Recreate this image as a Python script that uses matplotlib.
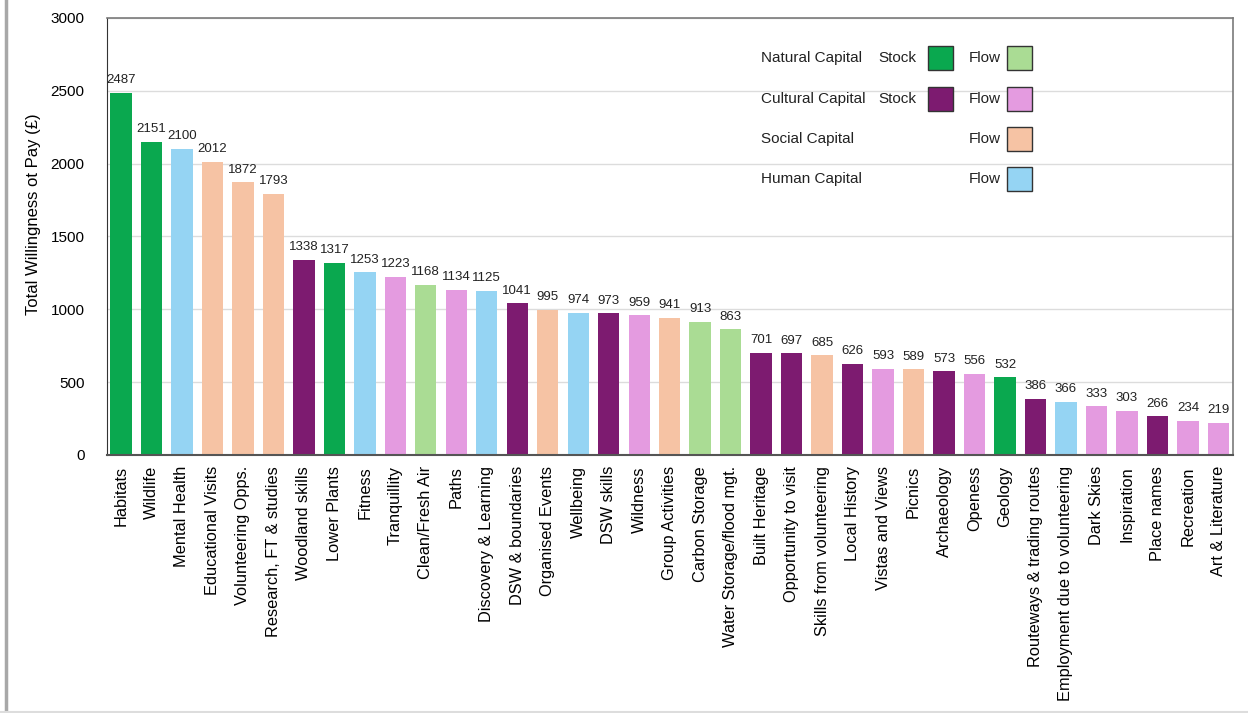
#!/usr/bin/env python3
"""Total willingness to pay by ecosystem service, coloured by capital type."""

import matplotlib
matplotlib.use("Agg")
import matplotlib.pyplot as plt
from matplotlib.lines import Line2D
from matplotlib.patches import Rectangle

plt.rcParams["font.family"] = ["Liberation Sans", "DejaVu Sans"]

services = [
    "Habitats", "Wildlife", "Mental Health", "Educational Visits", "Volunteering Opps.",
    "Research, FT & studies", "Woodland skills", "Lower Plants", "Fitness", "Tranquillity",
    "Clean/Fresh Air", "Paths", "Discovery & Learning", "DSW & boundaries", "Organised Events",
    "Wellbeing", "DSW skills", "Wildness", "Group Activities", "Carbon Storage",
    "Water Storage/flood mgt.", "Built Heritage", "Opportunity to visit",
    "Skills from volunteering", "Local History", "Vistas and Views", "Picnics", "Archaeology",
    "Openess", "Geology", "Routeways & trading routes", "Employment due to volunteering",
    "Dark Skies", "Inspiration", "Place names", "Recreation", "Art & Literature",
]
wtp = [
    2487, 2151, 2100, 2012, 1872, 1793, 1338, 1317, 1253, 1223, 1168, 1134, 1125, 1041,
    995, 974, 973, 959, 941, 913, 863, 701, 697, 685, 626, 593, 589, 573, 556, 532,
    386, 366, 333, 303, 266, 234, 219,
]
# NS natural stock, NF natural flow, CS cultural stock, CF cultural flow,
# SF social flow, HF human flow
capital = [
    "NS", "NS", "HF", "SF", "SF", "SF", "CS", "NS", "HF", "CF", "NF", "CF", "HF", "CS",
    "SF", "HF", "CS", "CF", "SF", "NF", "NF", "CS", "CS", "SF", "CS", "CF", "SF", "CS",
    "CF", "NS", "CS", "HF", "CF", "CF", "CS", "CF", "CF",
]

COLOURS = {
    "NS": "#0aa84f",
    "NF": "#aadc94",
    "CS": "#7d1b70",
    "CF": "#e49be0",
    "SF": "#f6c3a4",
    "HF": "#95d4f3",
}

fig = plt.figure(figsize=(12.48, 7.13), dpi=100)
ax = fig.add_axes([0.0857, 0.362, 0.9023, 0.613])

x = range(len(services))
bars = ax.bar(x, wtp, width=0.7, color=[COLOURS[c] for c in capital], zorder=2)
for bar, v in zip(bars, wtp):
    ax.text(bar.get_x() + bar.get_width() / 2, v + 45, f"{v}",
            ha="center", va="bottom", fontsize=9.5, color="#222222")

ax.set_xlim(-0.46, len(services) - 0.52)
ax.set_ylim(0, 3000)
ax.set_yticks(range(0, 3001, 500))
ax.tick_params(axis="y", length=0, labelsize=11, pad=16)
ax.tick_params(axis="x", length=0, pad=8)
ax.set_xticks(list(x))
ax.set_xticklabels(services, rotation=90, fontsize=11.8)
ax.yaxis.grid(True, color="#dcdcdc", linewidth=1, zorder=0)
ax.set_axisbelow(True)
ax.set_ylabel("Total Willingness ot Pay (£)", fontsize=12, labelpad=8)
ax.yaxis.set_label_coords(-0.059, 0.55)

for side in ("top", "right"):
    ax.spines[side].set_color("#7a7a7a")
    ax.spines[side].set_linewidth(1.2)
ax.spines["left"].set_color("#333333")
ax.spines["bottom"].set_color("#555555")
ax.spines["bottom"].set_linewidth(1.5)

# hand-built key in the upper right corner
rows = [
    ("Natural Capital", "NS", "NF"),
    ("Cultural Capital", "CS", "CF"),
    ("Social Capital", None, "SF"),
    ("Human Capital", None, "HF"),
]
y0, dy = 0.907, 0.092
sw, sh = 0.0222, 0.055
for i, (name, stock, flow) in enumerate(rows):
    yy = y0 - i * dy
    ax.text(0.5805, yy, name, transform=ax.transAxes, fontsize=11, va="center", color="#222222")
    if stock:
        ax.text(0.685, yy, "Stock", transform=ax.transAxes, fontsize=11, va="center", color="#222222")
        ax.add_patch(Rectangle((0.729, yy - sh / 2), sw, sh, transform=ax.transAxes,
                               facecolor=COLOURS[stock], edgecolor="#333333", linewidth=1, zorder=3))
    ax.text(0.765, yy, "Flow", transform=ax.transAxes, fontsize=11, va="center", color="#222222")
    ax.add_patch(Rectangle((0.799, yy - sh / 2), sw, sh, transform=ax.transAxes,
                           facecolor=COLOURS[flow], edgecolor="#333333", linewidth=1, zorder=3))

# panel edges
fig.add_artist(Line2D([0.0045, 0.0045], [0, 1], transform=fig.transFigure,
                      color="#a8a8a8", linewidth=2.5))
fig.add_artist(Line2D([0, 1], [0.002, 0.002], transform=fig.transFigure,
                      color="#dddddd", linewidth=1.5))

fig.savefig("out.png", dpi=100)
